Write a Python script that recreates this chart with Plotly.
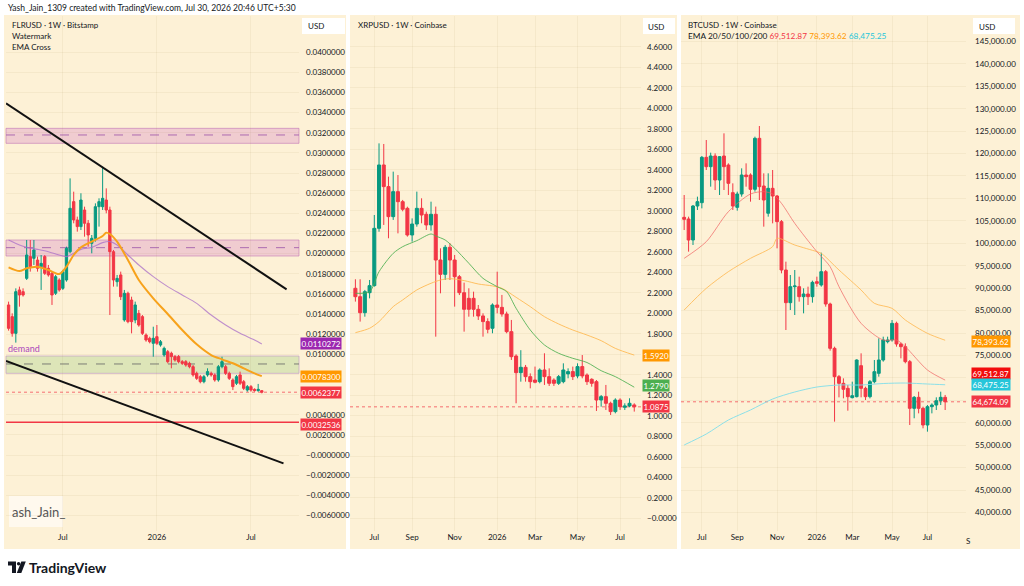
import plotly.graph_objects as go
import pandas as pd

W, H = 1024, 586
FONT = "Lato, Roboto, sans-serif"
CREAM = "#FDF1D6"
TXT = "#131722"
GRID = "rgba(140,110,60,0.07)"
UP = "#089981"
DN = "#F23645"


def fx(px):
    return px / W


def fy(py):
    return 1 - py / H


# ---------------- FLR / USD weekly ----------------
flr_dates = pd.date_range(end="2026-07-27", periods=71, freq="W-MON")
flr_open = [0.01490, 0.01374, 0.01208, 0.01639, 0.01622, 0.01754, 0.01970, 0.01953, 0.01936, 0.01870,
            0.01970, 0.01854, 0.01804, 0.01606, 0.01738, 0.01655, 0.01738, 0.02019, 0.02516, 0.02334,
            0.02268, 0.02433, 0.02301, 0.02102, 0.02152, 0.02466, 0.02466, 0.02532, 0.02433, 0.02019,
            0.01721, 0.01788, 0.01341, 0.01606, 0.01539, 0.01341, 0.01407, 0.01374, 0.01192, 0.01159,
            0.01109, 0.01175, 0.01092, 0.00993, 0.01026, 0.01010, 0.00977, 0.00977, 0.00927, 0.00927,
            0.00910, 0.00877, 0.00811, 0.00778, 0.00728, 0.00795, 0.00811, 0.00795, 0.00745, 0.00877,
            0.00877, 0.00811, 0.00745, 0.00712, 0.00795, 0.00728, 0.00645, 0.00679, 0.00652, 0.00639,
            0.00639]
flr_high = [0.01523, 0.01407, 0.01655, 0.01672, 0.01655, 0.02135, 0.02135, 0.02135, 0.01970, 0.01986,
            0.01986, 0.01887, 0.01821, 0.01788, 0.01755, 0.01838, 0.02069, 0.02747, 0.02615, 0.02367,
            0.02599, 0.02466, 0.02334, 0.02185, 0.02499, 0.02549, 0.02863, 0.02648, 0.02466, 0.02036,
            0.01788, 0.01821, 0.01639, 0.01622, 0.01572, 0.01523, 0.01440, 0.01390, 0.01208, 0.01175,
            0.01274, 0.01291, 0.01142, 0.01076, 0.01043, 0.01026, 0.00993, 0.00993, 0.00943, 0.00943,
            0.00927, 0.00894, 0.00828, 0.00795, 0.00795, 0.00861, 0.00828, 0.00811, 0.00894, 0.00976,
            0.00894, 0.00828, 0.00761, 0.00795, 0.00828, 0.00745, 0.00695, 0.00695, 0.00662, 0.00706,
            0.00645]
flr_low = [0.01235, 0.01175, 0.01116, 0.01473, 0.01573, 0.01738, 0.01821, 0.01887, 0.01821, 0.01639,
           0.01788, 0.01771, 0.01490, 0.01589, 0.01622, 0.01639, 0.01721, 0.02003, 0.02301, 0.02218,
           0.02234, 0.02168, 0.02069, 0.02003, 0.02119, 0.02268, 0.02433, 0.02400, 0.01390, 0.01672,
           0.01672, 0.01539, 0.01324, 0.01308, 0.01208, 0.01308, 0.01274, 0.01192, 0.01125, 0.01109,
           0.00976, 0.01092, 0.01076, 0.00976, 0.00910, 0.00861, 0.00927, 0.00910, 0.00894, 0.00877,
           0.00861, 0.00778, 0.00745, 0.00712, 0.00712, 0.00778, 0.00778, 0.00728, 0.00728, 0.00861,
           0.00795, 0.00745, 0.00645, 0.00695, 0.00695, 0.00645, 0.00629, 0.00629, 0.00629, 0.00629,
           0.00612]
flr_close = [0.01258, 0.01208, 0.01622, 0.01589, 0.01589, 0.01986, 0.01870, 0.02036, 0.01854, 0.01903,
             0.01804, 0.01788, 0.01589, 0.01771, 0.01639, 0.01821, 0.02052, 0.02450, 0.02334, 0.02268,
             0.02532, 0.02301, 0.02185, 0.02152, 0.02466, 0.02516, 0.02549, 0.02433, 0.02019, 0.01738,
             0.01754, 0.01572, 0.01606, 0.01324, 0.01324, 0.01490, 0.01291, 0.01208, 0.01142, 0.01125,
             0.01159, 0.01109, 0.01125, 0.01059, 0.00927, 0.00977, 0.00943, 0.00927, 0.00910, 0.00894,
             0.00877, 0.00795, 0.00761, 0.00728, 0.00778, 0.00828, 0.00795, 0.00745, 0.00877, 0.00927,
             0.00811, 0.00761, 0.00679, 0.00778, 0.00712, 0.00662, 0.00679, 0.00645, 0.00639, 0.00652,
             0.0062377]
flr_ema_fast_idx = [0, 3, 5, 8, 11, 14, 16, 18, 20, 23, 26, 27, 28, 30, 33, 36, 40, 44, 48, 52, 56, 59, 62, 65, 68, 70]
flr_ema_fast = [0.01864, 0.01827, 0.01854, 0.01870, 0.01837, 0.01797, 0.01870, 0.01986, 0.02062, 0.02119,
                0.02175, 0.02208, 0.02195, 0.02118, 0.01936, 0.01738, 0.01556, 0.01400, 0.01241, 0.01099,
                0.00993, 0.00950, 0.00911, 0.00861, 0.00811, 0.00783]
flr_ema_slow_idx = [0, 3, 5, 8, 11, 14, 16, 18, 20, 23, 26, 28, 30, 33, 36, 40, 44, 48, 52, 56, 60, 64, 68, 70]
flr_ema_slow = [0.02135, 0.02085, 0.02062, 0.02042, 0.02019, 0.01986, 0.01970, 0.02003, 0.02042, 0.02062,
                0.02109, 0.02119, 0.02085, 0.01986, 0.01887, 0.01771, 0.01672, 0.01589, 0.01506, 0.01390,
                0.01291, 0.01208, 0.01142, 0.01103]
flr_trend_upper_dates = ["2025-03-19", "2026-09-13"]
flr_trend_upper = [0.03492, 0.01645]
flr_trend_lower_dates = ["2025-03-19", "2026-09-07"]
flr_trend_lower = [0.00933, -0.000827]
flr_zones_pink = [(0.03095, 0.03244, 0.03178), (0.01976, 0.02135, 0.02059)]
flr_zone_demand = (0.00811, 0.00983, 0.00904)
flr_support = 0.0032536
flr_labels = [("0.0110272", 0.0110272, "#9C27B0"), ("0.0078300", 0.00783, "#FF9800"),
              ("0.0062377", 0.0062377, DN), ("0.0032536", 0.0032536, DN)]
flr_yticks = [round(-0.006 + 0.002 * i, 4) for i in range(24)]
flr_hidden_ticks = [0.006, 0.008]
flr_yticktext = ["" if v in flr_hidden_ticks else
                 ("\u22120.0000000" if v == 0 else ("%.7f" % v).replace("-", "\u2212")) for v in flr_yticks]
flr_xticks = ["2025-07-07", "2026-01-05", "2026-07-06"]
flr_xticktext = ["Jul", "2026", "Jul"]

# ---------------- XRP / USD weekly ----------------
xrp_dates = pd.date_range(end="2026-07-27", periods=60, freq="W-MON")
xrp_open = [2.244, 2.162, 2.006, 2.201, 2.270, 2.829, 3.447, 3.236, 2.943, 3.187,
            3.089, 3.024, 2.764, 2.871, 3.024, 2.966, 2.862, 2.966, 2.520, 2.380,
            2.644, 2.520, 2.357, 2.201, 2.146, 2.146, 2.039, 1.974, 1.919, 1.854,
            2.081, 2.058, 1.993, 1.821, 1.583, 1.421, 1.473, 1.382, 1.349, 1.333,
            1.447, 1.382, 1.349, 1.317, 1.333, 1.409, 1.431, 1.389, 1.480, 1.398,
            1.356, 1.333, 1.154, 1.187, 1.122, 1.041, 1.154, 1.083, 1.096, 1.106]
xrp_high = [2.332, 2.332, 2.228, 2.325, 2.959, 3.658, 3.652, 3.333, 3.382, 3.349,
            3.106, 3.040, 2.926, 3.187, 3.122, 2.992, 3.089, 3.041, 2.634, 2.666,
            2.683, 2.569, 2.374, 2.299, 2.244, 2.211, 2.081, 2.000, 1.951, 2.097,
            2.406, 2.179, 2.016, 1.935, 1.600, 1.640, 1.496, 1.414, 1.480, 1.463,
            1.610, 1.463, 1.366, 1.398, 1.512, 1.463, 1.480, 1.512, 1.593, 1.414,
            1.366, 1.349, 1.203, 1.301, 1.138, 1.171, 1.171, 1.122, 1.171, 1.122]
xrp_low = [2.114, 1.919, 1.967, 2.146, 2.260, 2.796, 2.862, 2.732, 2.911, 2.780,
           2.995, 2.748, 2.699, 2.845, 2.878, 2.813, 2.806, 1.772, 2.195, 2.325,
           2.325, 2.065, 2.178, 1.821, 1.967, 1.967, 1.935, 1.772, 1.805, 1.805,
           2.000, 1.967, 1.805, 1.545, 1.122, 1.333, 1.333, 1.268, 1.317, 1.317,
           1.301, 1.291, 1.291, 1.301, 1.317, 1.366, 1.349, 1.366, 1.366, 1.301,
           1.284, 1.047, 1.089, 1.057, 1.008, 1.024, 1.057, 1.057, 1.083, 1.041]
xrp_close = [2.162, 2.006, 2.211, 2.270, 2.829, 3.447, 3.236, 2.943, 3.187, 3.089,
             3.015, 2.764, 2.871, 3.024, 2.959, 2.862, 2.966, 2.520, 2.380, 2.644,
             2.520, 2.357, 2.201, 2.039, 2.039, 2.039, 1.974, 1.919, 1.844, 2.081,
             2.058, 1.993, 1.821, 1.577, 1.421, 1.473, 1.382, 1.333, 1.327, 1.447,
             1.382, 1.317, 1.317, 1.382, 1.447, 1.431, 1.382, 1.480, 1.389, 1.333,
             1.317, 1.154, 1.187, 1.122, 1.041, 1.154, 1.089, 1.096, 1.122, 1.0875]
xrp_ema20_idx = [0, 3, 5, 8, 10, 13, 16, 17, 19, 21, 24, 27, 30, 32, 34, 37, 40, 43, 46, 49, 52, 55, 59]
xrp_ema20 = [2.195, 2.211, 2.406, 2.585, 2.650, 2.709, 2.774, 2.754, 2.715, 2.634, 2.488, 2.341,
             2.260, 2.211, 2.049, 1.837, 1.691, 1.610, 1.561, 1.520, 1.440, 1.382, 1.279]
xrp_ema50_idx = [0, 3, 5, 8, 10, 13, 16, 18, 20, 23, 26, 29, 31, 34, 37, 40, 43, 46, 49, 52, 55, 59]
xrp_ema50 = [1.811, 1.854, 1.919, 2.065, 2.130, 2.228, 2.293, 2.325, 2.338, 2.319, 2.286, 2.267,
             2.244, 2.156, 2.065, 1.967, 1.896, 1.837, 1.788, 1.733, 1.658, 1.592]
xrp_labels = [("1.5920", 1.592, "#FF9800"), ("1.2790", 1.279, "#4CAF50"), ("1.0875", 1.0875, DN)]
xrp_yticks = [round(0.2 * i, 1) for i in range(24)]
xrp_hidden_ticks = [1.6]
xrp_yticktext = ["" if v in xrp_hidden_ticks else ("\u22120.0000" if v == 0 else "%.4f" % v) for v in xrp_yticks]
xrp_xticks = ["2025-07-07", "2025-09-01", "2025-11-03", "2026-01-05", "2026-03-02", "2026-05-04", "2026-07-06"]
xrp_xticktext = ["Jul", "Sep", "Nov", "2026", "Mar", "May", "Jul"]

# ---------------- BTC / USD weekly ----------------
btc_dates = pd.date_range(end="2026-07-27", periods=60, freq="W-MON")
btc_open = [105786, 105415, 100735, 108312, 109055, 119159, 117079, 119456, 114107, 119456,
            117450, 111284, 108015, 110986, 115222, 115222, 112026, 123393, 112770, 106700,
            112250, 110540, 104820, 94049, 86768, 90334, 90334, 88106, 88700, 88106,
            91448, 90706, 93678, 86471, 76590, 70276, 68790, 67675, 65594, 65818,
            72727, 67675, 65818, 69162, 71020, 73990, 78076, 78447, 82163, 77555,
            76962, 73619, 63218, 65669, 63218, 59504, 63589, 63961, 64926, 65669]
btc_high = [110764, 105935, 108534, 110393, 119456, 123022, 120198, 120050, 119456, 124507,
            117822, 113364, 111507, 116708, 117822, 115593, 123764, 126142, 115593, 115593,
            116336, 110764, 105192, 95906, 92934, 94049, 92563, 89963, 90334, 91671,
            92563, 97912, 94049, 86768, 76962, 70648, 69905, 68419, 69162, 74139,
            75476, 68047, 69533, 73990, 78818, 79190, 79190, 82905, 82534, 77852,
            77700, 73990, 65966, 66932, 63589, 63961, 64332, 65669, 66932, 66200]
btc_low = [102964, 98135, 99621, 107420, 107792, 116336, 112621, 111878, 110764, 111878,
           110764, 107420, 107272, 110393, 112621, 109278, 111507, 109650, 103707, 105935,
           104450, 98878, 93306, 80676, 85134, 84020, 86991, 84391, 86248, 86768,
           90334, 90334, 85877, 76070, 60247, 65668, 65446, 62697, 65446, 65669,
           65669, 65075, 65446, 68790, 70276, 73619, 77700, 78076, 76962, 74362,
           73247, 59504, 61004, 62103, 58761, 58018, 62103, 62846, 63961, 62846]
btc_close = [105340, 100735, 108312, 109278, 119159, 117079, 119456, 114107, 119307, 117079,
             113364, 108312, 110986, 115222, 114850, 112026, 123393, 112621, 109650, 112250,
             110540, 104820, 94049, 86768, 90334, 90483, 88106, 88700, 88106, 91300,
             91077, 93678, 86471, 76590, 70276, 68790, 67452, 65818, 66040, 73990,
             67675, 65818, 69162, 71391, 73990, 78447, 78447, 82163, 77555, 76962,
             73619, 63218, 65669, 63218, 59504, 63589, 63961, 64926, 65669, 64674.09]
btc_ema20_idx = [0, 5, 10, 15, 18, 20, 22, 25, 30, 33, 35, 40, 45, 48, 50, 55, 59]
btc_ema20 = [96648, 100363, 107049, 110986, 111507, 110986, 108906, 104450, 98135, 94792, 90334,
             82163, 78447, 78447, 76962, 71762, 69512.87]
btc_ema50_idx = [0, 5, 10, 15, 20, 21, 25, 30, 31, 35, 40, 43, 47, 50, 55, 59]
btc_ema50 = [85134, 89962, 93678, 96648, 99248, 101106, 99620, 98135, 97763, 94049, 89591, 86620,
             85505, 82905, 79933, 78393.62]
btc_ema100_idx = [0, 5, 10, 15, 20, 25, 30, 35, 40, 45, 50, 55, 59]
btc_ema100 = [55050, 57500, 60620, 62850, 65300, 66860, 67970, 68420, 68420, 68750, 68860, 68640, 68475.25]
btc_labels = [("78,393.62", 78393.62, "#FF9800"), ("69,512.87", 69512.87, "#F20D0D"),
              ("68,475.25", 68475.25, "#26C6DA"), ("64,674.09", 64674.09, DN)]
btc_yticks = [40000 + 5000 * i for i in range(22)]
btc_hidden_ticks = [65000, 70000]
btc_yticktext = ["" if v in btc_hidden_ticks else "{:,.2f}".format(v) for v in btc_yticks]
btc_xticks = ["2025-07-07", "2025-09-01", "2025-11-03", "2026-01-05", "2026-03-02", "2026-05-04", "2026-06-29"]
btc_xticktext = ["Jul", "Sep", "Nov", "2026", "Mar", "May", "Jul"]

# label boxes that TradingView pushes apart to avoid overlap (pixel shift, up = +)
label_shift_px = {"69,512.87": 7, "0.0032536": -2, "78,393.62": -1, "1.2790": 2}

# ---------------- figure ----------------
fig = go.Figure()


def candles(dates, o, h, l, c, xa, ya):
    fig.add_trace(go.Candlestick(
        x=dates, open=o, high=h, low=l, close=c, xaxis=xa, yaxis=ya,
        increasing=dict(line=dict(color=UP, width=1), fillcolor=UP),
        decreasing=dict(line=dict(color=DN, width=1), fillcolor=DN),
        hoverinfo="skip", showlegend=False))


def ema(dates, idx, vals, xa, ya, color, width):
    fig.add_trace(go.Scatter(
        x=[dates[i] for i in idx], y=vals, xaxis=xa, yaxis=ya, mode="lines",
        line=dict(color=color, width=width, shape="spline", smoothing=0.8),
        hoverinfo="skip", showlegend=False))


# FLR traces
ema(flr_dates, flr_ema_slow_idx, flr_ema_slow, "x", "y", "rgba(170,110,200,0.75)", 1.1)
ema(flr_dates, flr_ema_fast_idx, flr_ema_fast, "x", "y", "#F7A21B", 2)
candles(flr_dates, flr_open, flr_high, flr_low, flr_close, "x", "y")
fig.add_trace(go.Scatter(x=flr_trend_upper_dates, y=flr_trend_upper, xaxis="x", yaxis="y", mode="lines",
                         line=dict(color="#111111", width=2), hoverinfo="skip", showlegend=False))
fig.add_trace(go.Scatter(x=flr_trend_lower_dates, y=flr_trend_lower, xaxis="x", yaxis="y", mode="lines",
                         line=dict(color="#111111", width=2), hoverinfo="skip", showlegend=False))

# XRP traces
ema(xrp_dates, xrp_ema50_idx, xrp_ema50, "x2", "y2", "rgba(255,183,77,0.85)", 1)
ema(xrp_dates, xrp_ema20_idx, xrp_ema20, "x2", "y2", "rgba(76,175,80,0.85)", 1)
candles(xrp_dates, xrp_open, xrp_high, xrp_low, xrp_close, "x2", "y2")

# BTC traces
ema(btc_dates, btc_ema100_idx, btc_ema100, "x3", "y3", "rgba(128,222,234,0.9)", 1)
ema(btc_dates, btc_ema50_idx, btc_ema50, "x3", "y3", "rgba(255,183,77,0.8)", 1)
ema(btc_dates, btc_ema20_idx, btc_ema20, "x3", "y3", "rgba(240,98,98,0.7)", 1)
candles(btc_dates, btc_open, btc_high, btc_low, btc_close, "x3", "y3")

shapes = []
# panel backgrounds
for x0, x1 in [(4, 346), (350, 677), (681, 1020)]:
    shapes.append(dict(type="rect", xref="paper", yref="paper", x0=fx(x0), x1=fx(x1), y0=fy(549), y1=fy(15),
                       fillcolor=CREAM, line=dict(width=0), layer="below"))
# USD boxes
for x0, x1 in [(302, 345), (643, 675), (973, 1015)]:
    shapes.append(dict(type="rect", xref="paper", yref="paper", x0=fx(x0), x1=fx(x1), y0=fy(34), y1=fy(18),
                       fillcolor="white", line=dict(width=0), layer="below"))
# watermark box
shapes.append(dict(type="rect", xref="paper", yref="paper", x0=fx(9), x1=fx(63), y0=fy(527), y1=fy(496),
                   fillcolor="#FFF9EE", line=dict(width=0), layer="below"))
# FLR zones
for lo, hi, mid in flr_zones_pink:
    shapes.append(dict(type="rect", xref="x domain", yref="y", x0=0, x1=1, y0=lo, y1=hi,
                       fillcolor="rgba(214,128,196,0.32)", line=dict(color="rgba(190,110,180,0.55)", width=1),
                       layer="below"))
    shapes.append(dict(type="line", xref="x domain", yref="y", x0=0, x1=1, y0=mid, y1=mid,
                       line=dict(color="rgba(160,90,170,0.85)", width=1, dash="dash"), layer="below"))
lo, hi, mid = flr_zone_demand
shapes.append(dict(type="rect", xref="x domain", yref="y", x0=0, x1=1, y0=lo, y1=hi,
                   fillcolor="rgba(160,205,130,0.35)", line=dict(color="rgba(190,150,200,0.6)", width=1),
                   layer="below"))
shapes.append(dict(type="line", xref="x domain", yref="y", x0=0, x1=1, y0=mid, y1=mid,
                   line=dict(color="rgba(100,100,100,0.8)", width=1, dash="dash"), layer="below"))
shapes.append(dict(type="line", xref="x domain", yref="y", x0=0, x1=1, y0=flr_support, y1=flr_support,
                   line=dict(color=DN, width=1.5), layer="below"))
# last price dotted lines
for xa, ya, v in [("x", "y", flr_close[-1]), ("x2", "y2", xrp_close[-1]), ("x3", "y3", btc_close[-1])]:
    shapes.append(dict(type="line", xref=xa + " domain", yref=ya, x0=0, x1=1, y0=v, y1=v,
                       line=dict(color="rgba(242,54,69,0.7)", width=1, dash="dot"), layer="below"))


# TradingView logo
def P(x, y):
    return "%f,%f" % (fx(x), fy(y))


shapes.append(dict(type="path", xref="paper", yref="paper",
                   path="M %s L %s L %s L %s L %s L %s Z" % (P(8, 561.5), P(16, 561.5), P(16, 573), P(12, 573), P(12, 565.5), P(8, 565.5)),
                   fillcolor=TXT, line=dict(width=0)))
shapes.append(dict(type="circle", xref="paper", yref="paper", x0=fx(16.9), x1=fx(20.3), y0=fy(565.4), y1=fy(562),
                   fillcolor=TXT, line=dict(width=0)))
shapes.append(dict(type="path", xref="paper", yref="paper",
                   path="M %s L %s L %s L %s Z" % (P(21.3, 561.5), P(25.8, 561.5), P(21.3, 573), P(16.8, 573)),
                   fillcolor=TXT, line=dict(width=0)))

annotations = []


def txt(x, y, text, size=8.5, color=TXT, xanchor="left", **kw):
    annotations.append(dict(x=fx(x), y=fy(y), xref="paper", yref="paper", text=text, showarrow=False,
                            xanchor=xanchor, yanchor="middle", font=dict(size=size, color=color, family=FONT), **kw))


txt(6, 8, "Yash_Jain_1309 created with TradingView.com, Jul 30, 2026 20:46 UTC+5:30", size=8.5)
txt(10, 25, "FLRUSD \u00b7 1W \u00b7 Bitstamp", size=8)
txt(10, 36, "Watermark", size=8)
txt(10, 46.5, "EMA Cross", size=8)
txt(356, 25, "XRPUSD \u00b7 1W \u00b7 Coinbase", size=8)
txt(686, 25, "BTCUSD \u00b7 1W \u00b7 Coinbase", size=8)
txt(686, 36, "EMA 20/50/100/200 <span style='color:#F23645'>69,512.87</span> "
             "<span style='color:#FF9800'>78,393.62</span> <span style='color:#26C6DA'>68,475.25</span>", size=8.3)
txt(306, 26, "USD", size=8)
txt(646, 27, "USD", size=8)
txt(977, 27, "USD", size=8)
txt(6, 348, "demand", size=9, color="#AB47BC")
txt(10, 512, "ash_Jain_", size=13, color="#555555")
txt(968, 541, "S", size=8, xanchor="center")
txt(27, 567.5, "<b>TradingView</b>", size=14)

for labels, xa_px, ya in [(flr_labels, 300, "y"), (xrp_labels, 642, "y2"), (btc_labels, 971, "y3")]:
    for t, v, col in labels:
        annotations.append(dict(x=fx(xa_px), xref="paper", xanchor="left", y=v, yref=ya, yanchor="middle",
                                yshift=label_shift_px.get(t, 0),
                                text=t, showarrow=False, bgcolor=col, borderpad=0.5,
                                font=dict(size=8, color="white", family=FONT)))

ydom = [fy(531), fy(16)]


def xaxis(dom, rng, anchor, tv, tt):
    return dict(domain=dom, range=rng, anchor=anchor, type="date", tickvals=tv, ticktext=tt,
                showgrid=True, gridcolor=GRID, gridwidth=1, zeroline=False, showline=False, ticks="",
                tickfont=dict(size=8, color=TXT, family=FONT), rangeslider=dict(visible=False), fixedrange=True)


def yaxis(rng, anchor, tv, tt, standoff):
    return dict(domain=ydom, range=rng, anchor=anchor, side="right", tickvals=tv, ticktext=tt,
                showgrid=True, gridcolor=GRID, gridwidth=1, zeroline=False, showline=False, ticks="",
                ticklabelstandoff=standoff, tickfont=dict(size=8, color=TXT, family=FONT), fixedrange=True)


fig.update_layout(
    width=W, height=H, autosize=False, margin=dict(l=0, r=0, t=0, b=0),
    paper_bgcolor="white", plot_bgcolor="rgba(0,0,0,0)", showlegend=False, hovermode=False,
    boxgap=0.2, boxgroupgap=0.2,
    xaxis=xaxis([fx(6), fx(299)], ["2025-03-19", "2026-10-07"], "y", flr_xticks, flr_xticktext),
    yaxis=yaxis([-0.007547, 0.043595], "x", flr_yticks, flr_yticktext, 6),
    xaxis2=xaxis([fx(350), fx(641)], ["2025-06-01", "2026-08-06"], "y2", xrp_xticks, xrp_xticktext),
    yaxis2=yaxis([-0.1239, 4.9005], "x2", xrp_yticks, xrp_yticktext, 5),
    xaxis3=xaxis([fx(681), fx(966)], ["2025-06-04", "2026-08-29"], "y3", btc_xticks, btc_xticktext),
    yaxis3=yaxis([35882, 150657], "x3", btc_yticks, btc_yticktext, 8),
    shapes=shapes, annotations=annotations,
)

fig.write_html("out.html", config={"displayModeBar": False, "staticPlot": True})
